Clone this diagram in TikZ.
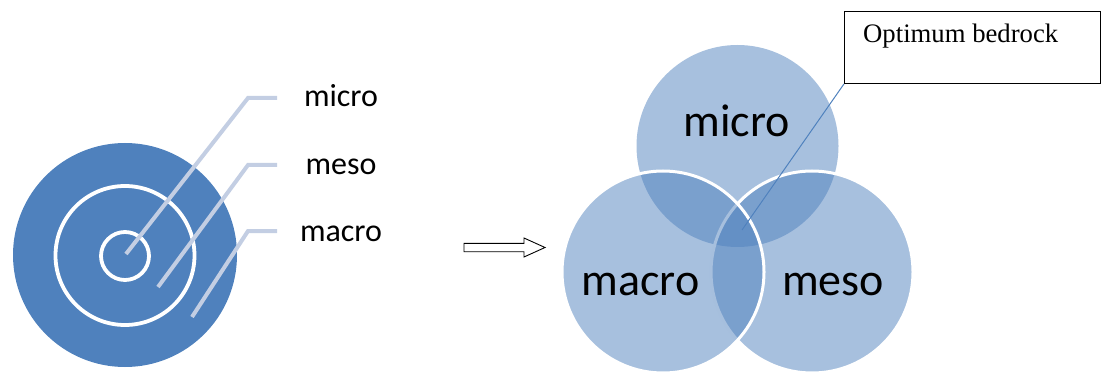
\documentclass[tikz,border=0pt]{standalone}
\usepackage{fontspec}
\setmainfont{Carlito}
\newfontfamily\timesfont{Liberation Serif}
\definecolor{accent}{HTML}{4F81BD}
\definecolor{leader}{HTML}{C3CEE3}
\begin{document}
\begin{tikzpicture}[x=1pt,y=-1pt,
  leaderline/.style={draw=leader,line width=4pt},
  ringline/.style={draw=white,line width=3.8pt},
  vennfill/.style={fill=accent,fill opacity=0.5},
  vennedge/.style={draw=white,line width=3pt},
  smalllabel/.style={anchor=base,inner sep=0pt,font=\fontsize{32}{38}\selectfont},
  biglabel/.style={anchor=base,inner sep=0pt,font=\fontsize{46}{54}\selectfont}]
\useasboundingbox (0,0) rectangle (1107,374);
% left target
\fill[accent] (125,255) circle (112);
\draw[ringline] (125,255.5) circle (69.5);
\draw[ringline] (125,256) circle (24);
\coordinate (p1) at (126,254);
\coordinate (p2) at (158,287);
\coordinate (p3) at (192,317);
\coordinate (e1) at (248,98);
\coordinate (e2) at (248,165);
\coordinate (e3) at (248,231);
\coordinate (f1) at (277,98);
\coordinate (f2) at (277,165);
\coordinate (f3) at (277,231);
\draw[leaderline] (p1) -- (e1) -- (f1);
\draw[leaderline] (p2) -- (e2) -- (f2);
\draw[leaderline] (p3) -- (e3) -- (f3);
\node[smalllabel] (lmicro) at (341,107) {micro};
\node[smalllabel] (lmeso) at (341,174.5) {meso};
\node[smalllabel] (lmacro) at (341,241.7) {macro};
% arrow
\draw[black,line width=0.9pt,fill=white,line join=miter]
  (464,243.3) -- (524,243.3) -- (524,238) -- (545,247.5) -- (524,257) -- (524,251.7) -- (464,251.7) -- cycle;
% venn
\coordinate (M) at (737.5,146);
\coordinate (S) at (812,272);
\coordinate (A) at (663,272);
\fill[vennfill] (M) circle (101);
\fill[vennfill] (S) circle (101);
\draw[vennedge] (S) circle (101);
\fill[vennfill] (A) circle (101);
\draw[vennedge] (A) circle (101);
\node[biglabel] (vmicro) at (736.5,136.7) {micro};
\node[biglabel] (vmacro) at (640.5,295) {macro};
\node[biglabel] (vmeso) at (833,295) {meso};
% callout box
\node[draw=black,line width=0.9pt,minimum width=256pt,minimum height=72pt,anchor=north west,inner sep=0pt] (box) at (844,11) {};
\node[anchor=base west,inner sep=0pt,font=\timesfont\fontsize{26.7}{32}\selectfont] (boxtext) at (863,43) {Optimum bedrock};
\coordinate (tip) at (742,230);
\draw[accent,line width=1pt] (box.south west) -- (tip);
\end{tikzpicture}
\end{document}
